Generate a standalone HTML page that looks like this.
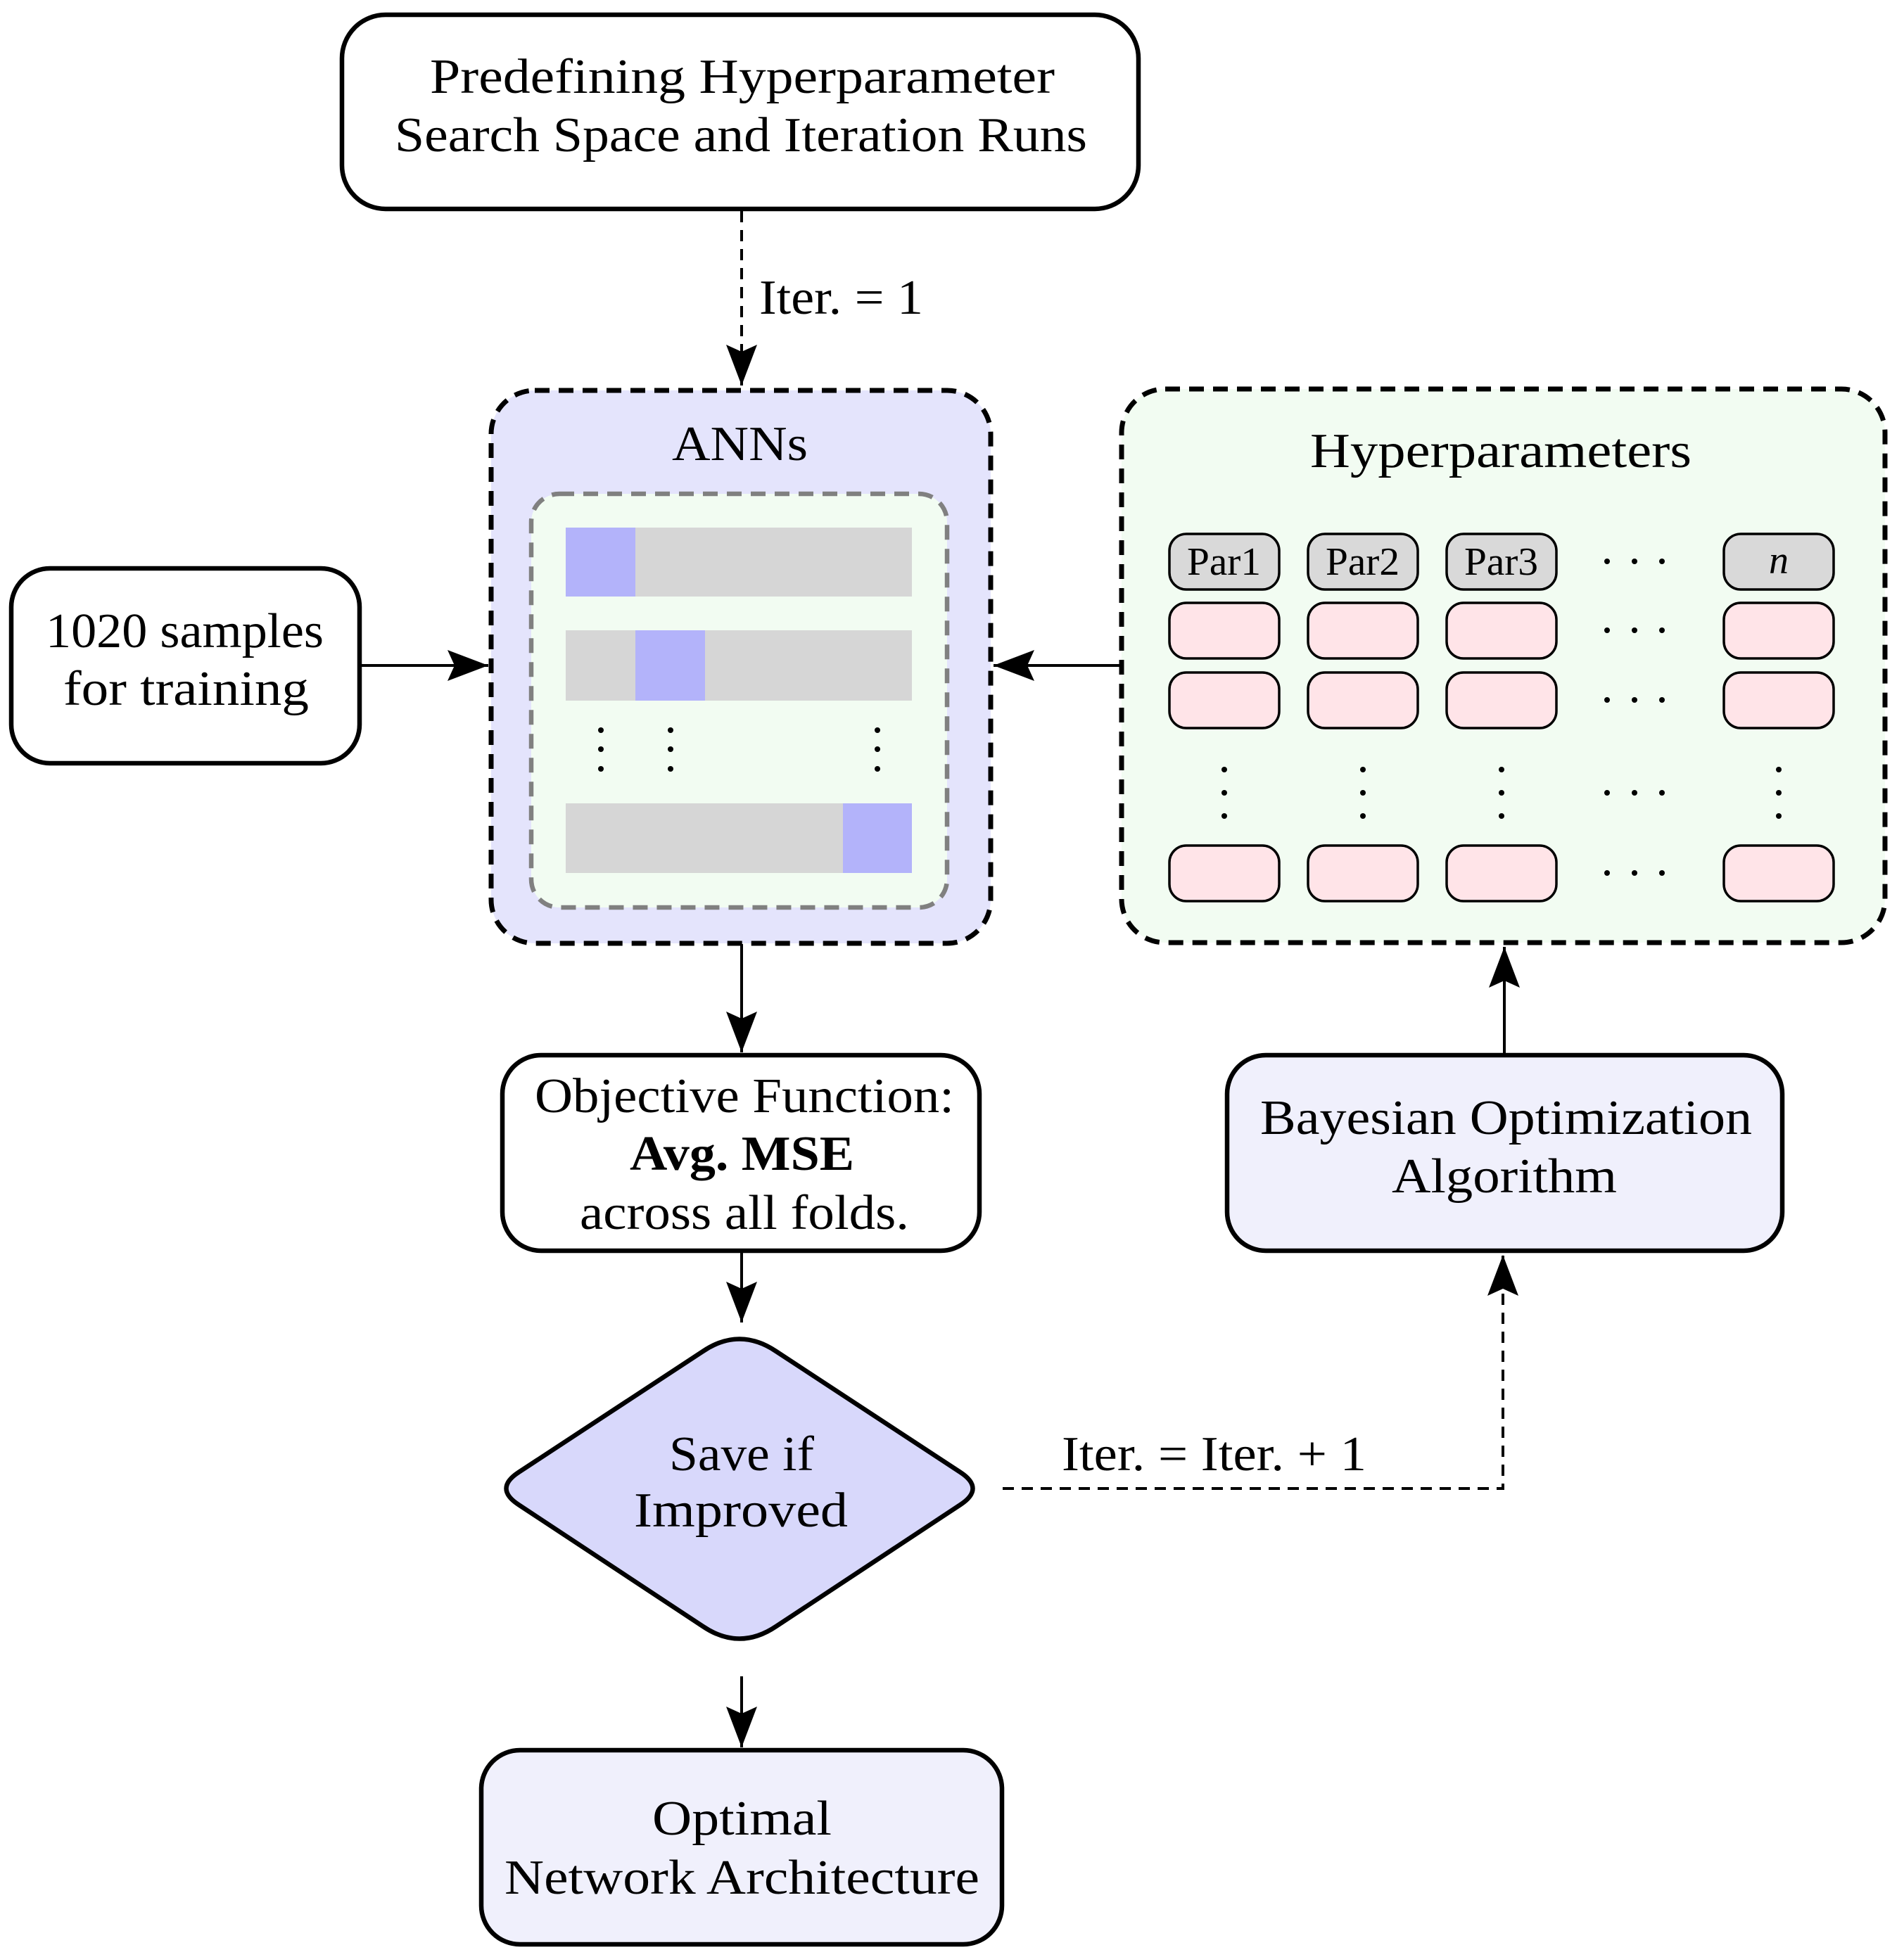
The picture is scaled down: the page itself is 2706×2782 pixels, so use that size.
<!DOCTYPE html>
<html><head><meta charset="utf-8"><style>html,body{margin:0;padding:0;background:#fff}svg{display:block}</style></head>
<body>
<svg width="2706" height="2782" viewBox="0 0 2706 2782" xmlns="http://www.w3.org/2000/svg" font-family="'Liberation Serif', serif" font-size="70" fill="#000">
<defs>
<marker id="ah" markerWidth="60" markerHeight="44" refX="58" refY="22" orient="auto" markerUnits="userSpaceOnUse">
<path d="M0,0 L58,22 L0,44 L10,22 Z" fill="#000"/>
</marker>
</defs>

<rect x="486" y="21" width="1132" height="276" rx="62" fill="#fff" stroke="#000" stroke-width="6.5"/>
<text x="611" y="132" textLength="888" lengthAdjust="spacingAndGlyphs">Predefining Hyperparameter</text>
<text x="561" y="215" textLength="984" lengthAdjust="spacingAndGlyphs">Search Space and Iteration Runs</text>

<line x1="1054" y1="300" x2="1054" y2="548" stroke="#000" stroke-width="4" stroke-dasharray="16,11" marker-end="url(#ah)"/>
<text x="1079" y="446" textLength="233" lengthAdjust="spacingAndGlyphs">Iter. = 1</text>

<rect x="698" y="555" width="710" height="786" rx="62" fill="#e4e4fc" stroke="#000" stroke-width="7" stroke-dasharray="21,13"/>
<text x="955" y="654" textLength="193" lengthAdjust="spacingAndGlyphs">ANNs</text>
<rect x="755" y="702" width="591" height="588" rx="40" fill="#f2fcf2" stroke="#808080" stroke-width="6.5" stroke-dasharray="21,13"/>
<rect x="804" y="750" width="492" height="98" fill="#d6d6d6"/>
<rect x="804" y="750" width="99" height="98" fill="#b3b3fa"/>
<rect x="804" y="896" width="492" height="100" fill="#d6d6d6"/>
<rect x="903" y="896" width="99" height="100" fill="#b3b3fa"/>
<rect x="804" y="1142" width="492" height="99" fill="#d6d6d6"/>
<rect x="1198" y="1142" width="98" height="99" fill="#b3b3fa"/>
<g fill="#000">
<circle cx="854" cy="1038" r="4"/><circle cx="854" cy="1065" r="4"/><circle cx="854" cy="1093" r="4"/>
<circle cx="953" cy="1038" r="4"/><circle cx="953" cy="1065" r="4"/><circle cx="953" cy="1093" r="4"/>
<circle cx="1247" cy="1038" r="4"/><circle cx="1247" cy="1065" r="4"/><circle cx="1247" cy="1093" r="4"/>
</g>

<rect x="16" y="808" width="495" height="277" rx="55" fill="#fff" stroke="#000" stroke-width="6.5"/>
<text x="65" y="920" textLength="395" lengthAdjust="spacingAndGlyphs">1020 samples</text>
<text x="90" y="1002" textLength="349" lengthAdjust="spacingAndGlyphs">for training</text>
<line x1="511" y1="946" x2="694" y2="946" stroke="#000" stroke-width="4" marker-end="url(#ah)"/>

<rect x="1594" y="553" width="1085" height="787" rx="62" fill="#f2fcf2" stroke="#000" stroke-width="7" stroke-dasharray="21,13"/>
<text x="1862" y="664" textLength="542" lengthAdjust="spacingAndGlyphs">Hyperparameters</text>
<g stroke="#000" stroke-width="3.5">
<rect x="1662" y="759" width="156" height="79" rx="24" fill="#d9d9d9"/>
<rect x="1859" y="759" width="156" height="79" rx="24" fill="#d9d9d9"/>
<rect x="2056" y="759" width="156" height="79" rx="24" fill="#d9d9d9"/>
<rect x="2450" y="759" width="156" height="79" rx="24" fill="#d9d9d9"/>
<g fill="#ffe4e8">
<rect x="1662" y="857" width="156" height="79" rx="24"/><rect x="1859" y="857" width="156" height="79" rx="24"/><rect x="2056" y="857" width="156" height="79" rx="24"/><rect x="2450" y="857" width="156" height="79" rx="24"/>
<rect x="1662" y="956" width="156" height="79" rx="24"/><rect x="1859" y="956" width="156" height="79" rx="24"/><rect x="2056" y="956" width="156" height="79" rx="24"/><rect x="2450" y="956" width="156" height="79" rx="24"/>
<rect x="1662" y="1202" width="156" height="79" rx="24"/><rect x="1859" y="1202" width="156" height="79" rx="24"/><rect x="2056" y="1202" width="156" height="79" rx="24"/><rect x="2450" y="1202" width="156" height="79" rx="24"/>
</g>
</g>
<g font-size="56">
<text x="1687" y="817" textLength="105" lengthAdjust="spacingAndGlyphs">Par1</text>
<text x="1884" y="817" textLength="105" lengthAdjust="spacingAndGlyphs">Par2</text>
<text x="2081" y="817" textLength="105" lengthAdjust="spacingAndGlyphs">Par3</text>
<text x="2528" y="815" text-anchor="middle" font-style="italic">n</text>
</g>
<g fill="#000">
<circle cx="2284" cy="798" r="4"/><circle cx="2323" cy="798" r="4"/><circle cx="2362" cy="798" r="4"/>
<circle cx="2284" cy="896" r="4"/><circle cx="2323" cy="896" r="4"/><circle cx="2362" cy="896" r="4"/>
<circle cx="2284" cy="995" r="4"/><circle cx="2323" cy="995" r="4"/><circle cx="2362" cy="995" r="4"/>
<circle cx="2284" cy="1127" r="4"/><circle cx="2323" cy="1127" r="4"/><circle cx="2362" cy="1127" r="4"/>
<circle cx="2284" cy="1241" r="4"/><circle cx="2323" cy="1241" r="4"/><circle cx="2362" cy="1241" r="4"/>
<circle cx="1740" cy="1094" r="4"/><circle cx="1740" cy="1127" r="4"/><circle cx="1740" cy="1160" r="4"/>
<circle cx="1937" cy="1094" r="4"/><circle cx="1937" cy="1127" r="4"/><circle cx="1937" cy="1160" r="4"/>
<circle cx="2134" cy="1094" r="4"/><circle cx="2134" cy="1127" r="4"/><circle cx="2134" cy="1160" r="4"/>
<circle cx="2528" cy="1094" r="4"/><circle cx="2528" cy="1127" r="4"/><circle cx="2528" cy="1160" r="4"/>
</g>
<line x1="1592" y1="946" x2="1412" y2="946" stroke="#000" stroke-width="4" marker-end="url(#ah)"/>

<line x1="1054" y1="1342" x2="1054" y2="1496" stroke="#000" stroke-width="4" marker-end="url(#ah)"/>
<rect x="714" y="1500" width="678" height="278" rx="55" fill="#fff" stroke="#000" stroke-width="6.5"/>
<text x="760" y="1581" textLength="596" lengthAdjust="spacingAndGlyphs">Objective Function:</text>
<text x="895" y="1663" textLength="319" lengthAdjust="spacingAndGlyphs" font-weight="bold">Avg. MSE</text>
<text x="824" y="1747" textLength="468" lengthAdjust="spacingAndGlyphs">across all folds.</text>

<line x1="1054" y1="1778" x2="1054" y2="1880" stroke="#000" stroke-width="4" marker-end="url(#ah)"/>
<path d="M999,1921 Q1051,1886 1103,1921 L1365,2093 Q1400,2116 1365,2139 L1103,2312 Q1051,2347 999,2312 L737,2139 Q702,2116 737,2093 Z" fill="#d8d8fb" stroke="#000" stroke-width="6.5" stroke-linejoin="round"/>
<text x="951" y="2090" textLength="206" lengthAdjust="spacingAndGlyphs">Save if</text>
<text x="901" y="2170" textLength="304" lengthAdjust="spacingAndGlyphs">Improved</text>

<line x1="1054" y1="2383" x2="1054" y2="2484" stroke="#000" stroke-width="4" marker-end="url(#ah)"/>
<rect x="684" y="2488" width="740" height="276" rx="55" fill="#f0f0fc" stroke="#000" stroke-width="6.5"/>
<text x="927" y="2608" textLength="255" lengthAdjust="spacingAndGlyphs">Optimal</text>
<text x="717" y="2692" textLength="675" lengthAdjust="spacingAndGlyphs">Network Architecture</text>

<rect x="1744" y="1500" width="789" height="278" rx="55" fill="#f0f0fc" stroke="#000" stroke-width="6.5"/>
<text x="1791" y="1612" textLength="699" lengthAdjust="spacingAndGlyphs">Bayesian Optimization</text>
<text x="1978" y="1695" textLength="320" lengthAdjust="spacingAndGlyphs">Algorithm</text>
<line x1="2138" y1="1500" x2="2138" y2="1346" stroke="#000" stroke-width="4" marker-end="url(#ah)"/>

<path d="M1425,2116 L2136,2116 L2136,1784" fill="none" stroke="#000" stroke-width="4" stroke-dasharray="16,11" marker-end="url(#ah)"/>
<text x="1509" y="2090" textLength="433" lengthAdjust="spacingAndGlyphs">Iter. = Iter. + 1</text>
</svg>
</body></html>
